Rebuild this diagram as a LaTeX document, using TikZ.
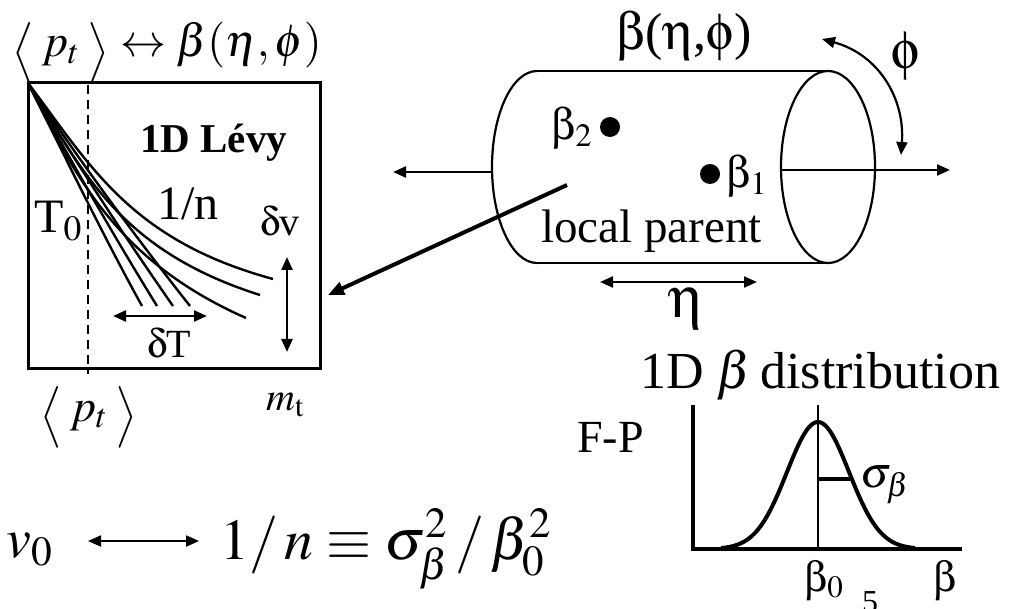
\documentclass[tikz,border=0pt]{standalone}
\usepackage{mathptmx}
\usepackage{fontspec}
\setmainfont{Liberation Serif}
\usetikzlibrary{arrows.meta}
\newcommand\sym[1]{{\usefont{U}{psy}{m}{n}#1}}
\newcommand\fs[1]{\fontsize{#1}{#1}\selectfont}
\newcommand\lang{\raisebox{-9pt}{\scalebox{1}[1.12]{$\bigl\langle$}}}
\newcommand\rang{\raisebox{-9pt}{\scalebox{1}[1.12]{$\bigr\rangle$}}}
\begin{document}
\begin{tikzpicture}[x=1pt,y=-1pt,
  lb/.style={inner sep=0pt,anchor=base west},
  lc/.style={inner sep=0pt,anchor=base},
  ln/.style={line width=2.4pt},
  arr/.style={-{Triangle[length=13pt,width=11pt]}},
  barr/.style={{Triangle[length=13pt,width=11pt]}-{Triangle[length=13pt,width=11pt]}},
]
\useasboundingbox (0,0) rectangle (1014,609);
% ---------- left box ----------
\node[lb,font=\fs{46}] (title) at (12,57) {\lang\,$p_t$\,\rang\ $\leftrightarrow\beta(\eta,\phi)$};
\draw[line width=3pt] (28,83) rectangle (320,368);
\coordinate (c) at (28,83);
\draw[line width=2.2pt,dashed,dash pattern=on 9pt off 6pt] (88,85) -- (88,374);
\foreach \ex/\ey/\ax/\ay/\bx/\by in {
  142/306/62/150/100/230,
  157/306/65/150/110/230,
  173/306/68/150/120/230,
  190/306/72/150/130/230,
  246/318/75/175/115/260,
  260/295/82/170/118/250,
  273/279/90/165/130/240}{
  \draw[ln] (c) .. controls (\ax,\ay) and (\bx,\by) .. (\ex,\ey);
}
\node[lb,font=\fs{41}\bfseries] (levy) at (140,153) {1D Lévy};
\node[lb,font=\fs{48}] (n1) at (157,220) {1/n};
\node[lb,font=\fs{48}] (T0) at (34,233) {T$_0$};
\node[lb,font=\fs{40}] (dv) at (260,236) {\sym{d}v};
\node[lb,font=\fs{40}] (dT) at (147,357) {\sym{d}T};
\coordinate (dTa) at (113,316);
\coordinate (dTb) at (207,316);
\draw[ln,barr] (dTa) -- (dTb);
\coordinate (dva) at (287,257);
\coordinate (dvb) at (287,352);
\draw[ln,barr] (dva) -- (dvb);
\node[lb,font=\fs{46}] (pt) at (40,421) {\lang\,$p_t$\,\rang};
\node[lb,font=\fs{40}] (mt) at (266,410) {$m_{\mathrm{t}}$};
% ---------- cylinder ----------
\node[lc,font=\fs{52}] (beta) at (684,50) {\sym{b}(\sym{h},\sym{f})};
\draw[line width=2.2pt] (537,71) -- (828,71);
\draw[line width=2.2pt] (537,263) -- (828,263);
\draw[line width=2.2pt] (537,71) arc[start angle=270,end angle=90,x radius=45,y radius=96];
\draw[line width=2.2pt] (828,167) ellipse[x radius=47,y radius=96];
\coordinate (axl) at (492,172);
\coordinate (axlend) at (393,172);
\coordinate (axr) at (781,170);
\coordinate (axrend) at (950,170);
\draw[line width=2.2pt,arr] (axl) -- (axlend);
\draw[line width=2.2pt,arr] (axr) -- (axrend);
\coordinate (pha) at (901,155);
\coordinate (phb) at (822,39);
\draw[line width=2.2pt,barr] (pha) .. controls (905,100) and (880,55) .. (phb);
\node[lc,font=\fs{54}] (phi) at (906,69) {\sym{f}};
\fill (610,127) circle (10pt) node (d2) {};
\fill (710,174) circle (10pt) node (d1) {};
\node[lb,font=\fs{44}] (b2) at (551,140) {\sym{b}$_2$};
\node[lb,font=\fs{44}] (b1) at (726,188) {\sym{b}$_1$};
\node[lb,font=\fs{47}] (lp) at (541,243) {local parent};
\coordinate (eta1) at (600,282);
\coordinate (eta2) at (757,282);
\draw[line width=2.2pt,barr] (eta1) -- (eta2);
\node[lc,font=\fs{58}] (eta) at (686,318) {\sym{h}};
% connector from cylinder to box
\coordinate (src) at (567,185);
\coordinate (dst) at (328,295);
\draw[line width=4pt,-{Triangle[length=16pt,width=13pt]}] (src) -- (dst);
% ---------- distribution ----------
\node[lb,font=\fs{52}] (dist) at (640,388) {1D $\beta$\,distribution};
\node[lb,font=\fs{46}] (fp) at (577,452) {F-P};
\draw[line width=3.2pt] (693,405) -- (693,549) -- (962,549);
\draw[line width=2pt] (818,405) -- (818,549);
\draw[line width=4pt,domain=-97:97,samples=90] plot ({818+\x},{549-127*exp(-((\x/31)^2)/2)});
\draw[line width=4pt] (818,479) -- (852,479);
\node[lb,font=\fs{44}] (sig) at (860,487) {$\sigma_\beta$};
\node[lb,font=\fs{42}] (b0) at (804,591) {\sym{b}$_0$};
\node[lb,font=\fs{32}] (five) at (862,612) {5};
\node[lb,font=\fs{42}] (bb) at (933,591) {\sym{b}};
% ---------- bottom equation ----------
\node[lb,font=\fs{56}] (v0) at (6,557) {$v_0$};
\node[lc,font=\fs{58}] (eq) at (386,559) {$1/\,n\equiv\sigma_\beta^2\,/\,\beta_0^2$};
\coordinate (va) at (88,541);
\coordinate (vb) at (199,541);
\draw[line width=2pt,barr] (va) -- (vb);
\end{tikzpicture}
\end{document}
